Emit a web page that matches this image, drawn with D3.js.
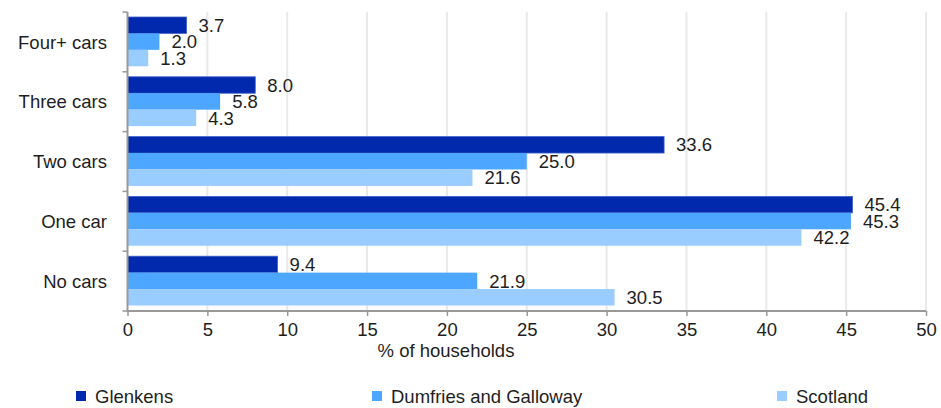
<!DOCTYPE html>
<html>
<head>
<meta charset="utf-8">
<script src="https://cdn.jsdelivr.net/npm/d3@7"></script>
<style>
  html, body { margin: 0; padding: 0; background: #fff; }
  svg { display: block; font-family: "Liberation Sans", Arial, sans-serif; }
</style>
</head>
<body>
<svg id="chart" width="941" height="408"></svg>
<script>
const categories = ["Four+ cars", "Three cars", "Two cars", "One car", "No cars"];
const seriesNames = ["Glenkens", "Dumfries and Galloway", "Scotland"];
const glenkens = [3.7, 8.0, 33.6, 45.4, 9.4];
const dumfriesGalloway = [2.0, 5.8, 25.0, 45.3, 21.9];
const scotland = [1.3, 4.3, 21.6, 42.2, 30.5];
const xTicks = [0, 5, 10, 15, 20, 25, 30, 35, 40, 45, 50];
const colors = ["#0029AE", "#4DA6FF", "#99CCFF"];
const seriesValues = [glenkens, dumfriesGalloway, scotland];

(function () {
const svg = d3.select("#chart");
const plotLeft = 127.5, plotRight = 926, plotTop = 12, plotBottom = 311;
const fontSize = 18.5;
const textColor = "#1e1e1e";

const x = d3.scaleLinear().domain([0, 50]).range([plotLeft, plotRight]);
const y = d3.scaleBand().domain(categories).range([plotTop, plotBottom]).padding(0);
const inner = d3.scaleBand().domain(seriesNames).range([5, y.bandwidth() - 5.5]).padding(0);

// gridlines
svg.append("g").selectAll("line").data(xTicks.filter(d => d > 0)).join("line")
  .attr("x1", d => x(d)).attr("x2", d => x(d))
  .attr("y1", plotTop).attr("y2", plotBottom)
  .attr("stroke", "#e9e9e9").attr("stroke-width", 2);

// bars
const rows = [];
categories.forEach((c, i) => {
  seriesNames.forEach((s, j) => rows.push({cat: c, series: s, value: seriesValues[j][i], color: colors[j], j}));
});

svg.append("g").selectAll("rect").data(rows).join("rect")
  .attr("x", x(0))
  .attr("y", d => y(d.cat) + inner(d.series))
  .attr("width", d => x(d.value) - x(0))
  .attr("height", inner.bandwidth())
  .attr("fill", d => d.color)
  .attr("stroke", d => d.j === 0 ? "#3f62c8" : "none")
  .attr("stroke-width", 0.8);

// value labels
svg.append("g").selectAll("text").data(rows).join("text")
  .attr("x", d => x(d.value) + 12)
  .attr("y", d => y(d.cat) + inner(d.series) + inner.bandwidth() / 2)
  .attr("dy", "0.36em")
  .attr("font-size", fontSize)
  .attr("fill", textColor)
  .text(d => d.value.toFixed(1));

// x axis
const xAxis = d3.axisBottom(x).tickValues(xTicks).tickSize(5).tickPadding(7).tickFormat(d3.format("d"));
const gx = svg.append("g").attr("transform", `translate(0,${plotBottom})`).call(xAxis);
gx.select(".domain").attr("stroke", "#999").attr("stroke-width", 2).attr("d", `M${plotLeft - 1},0H${plotRight}`);
gx.selectAll(".tick line").attr("stroke", "#999").attr("stroke-width", 1.5);
gx.selectAll(".tick text").attr("font-size", fontSize).attr("fill", textColor)
  .attr("font-family", "Liberation Sans, Arial, sans-serif");

// y axis
const gy = svg.append("g").attr("transform", `translate(${plotLeft},0)`);
gy.append("line").attr("x1", 0).attr("x2", 0).attr("y1", plotTop).attr("y2", plotBottom)
  .attr("stroke", "#999").attr("stroke-width", 2);
const boundaries = categories.map(c => y(c)).concat([plotBottom]);
gy.selectAll("line.tk").data(boundaries).join("line").attr("class", "tk")
  .attr("x1", -5).attr("x2", 0).attr("y1", d => d).attr("y2", d => d)
  .attr("stroke", "#999").attr("stroke-width", 1.5);
svg.append("g").selectAll("text").data(categories).join("text")
  .attr("x", 107).attr("y", d => y(d) + y.bandwidth() / 2)
  .attr("dy", "0.36em")
  .attr("text-anchor", "end")
  .attr("font-size", fontSize)
  .attr("fill", textColor)
  .text(d => d);

// axis title
svg.append("text").attr("x", 446).attr("y", 357)
  .attr("text-anchor", "middle").attr("font-size", fontSize).attr("fill", textColor)
  .text("% of households");

// legend
const legendX = [76, 372, 777];
const lg = svg.append("g").selectAll("g").data(seriesNames).join("g")
  .attr("transform", (d, i) => `translate(${legendX[i]},391)`);
lg.append("rect").attr("width", 10).attr("height", 10).attr("fill", (d, i) => colors[i]);
lg.append("text").attr("x", 19).attr("y", 5).attr("dy", "0.36em")
  .attr("font-size", fontSize).attr("fill", textColor).text(d => d);
})();
</script>
</body>
</html>
